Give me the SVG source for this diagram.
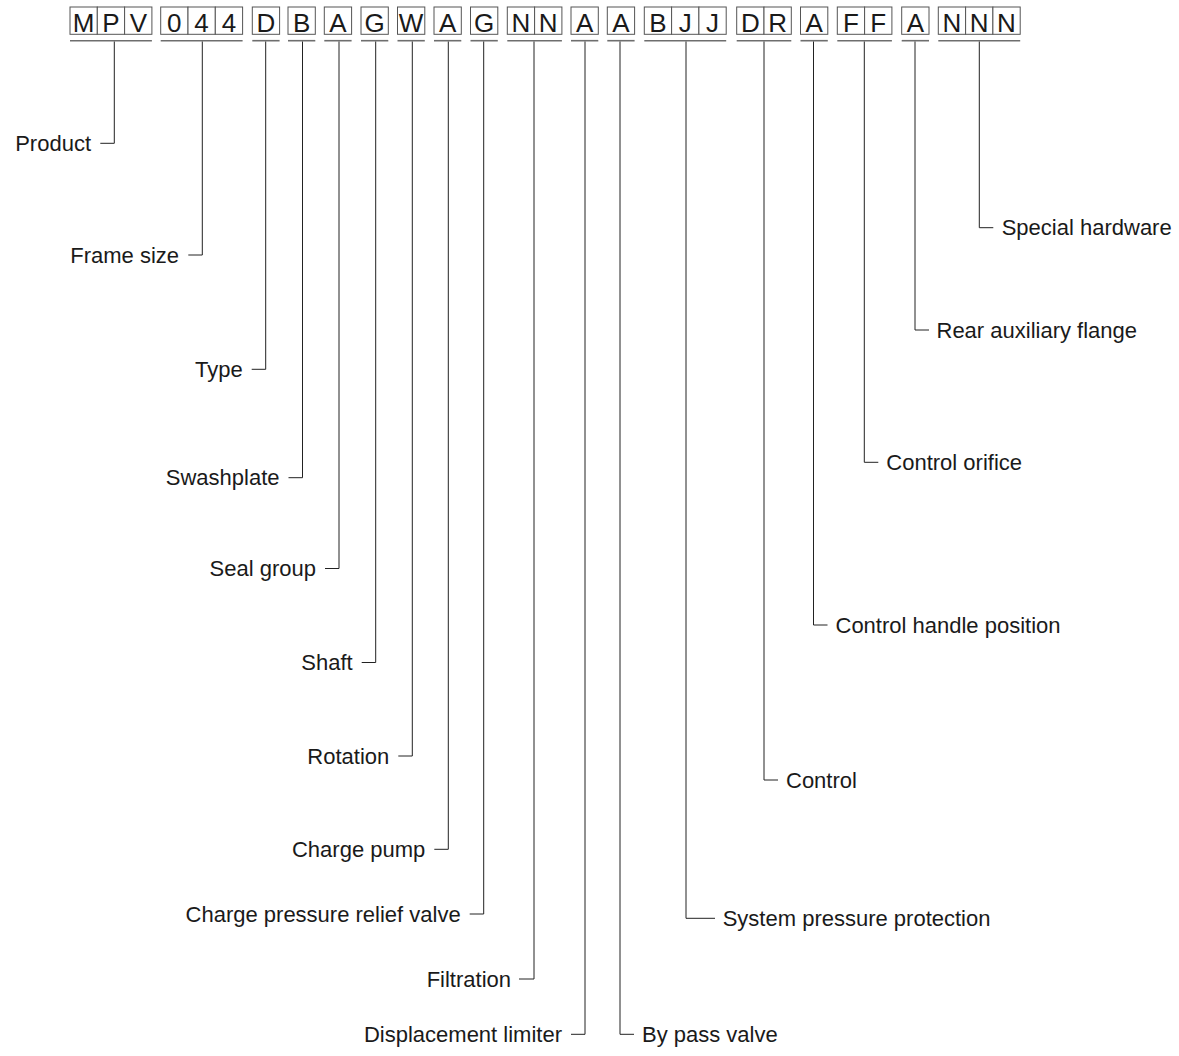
<svg xmlns="http://www.w3.org/2000/svg" width="1179" height="1056" viewBox="0 0 1179 1056">
<style>
.cell{fill:#fff;stroke:#555;stroke-width:1}
.ch{font-family:"Liberation Sans",Arial,sans-serif;font-size:26px;fill:#1a1a1a;text-anchor:middle}
.bar{stroke:#6e6e6e;stroke-width:1.6;fill:none}
.ln{stroke:#222;stroke-width:1;fill:none}
.lbl{font-family:"Liberation Sans",Arial,sans-serif;font-size:22px;fill:#1a1a1a}
.l{text-anchor:end}
.r{text-anchor:start}
</style>
<rect width="1179" height="1056" fill="#fff"/>
<g id="code">
<g id="g-mpv"><rect class="cell" x="70" y="7" width="27.3" height="27.3"/><rect class="cell" x="97.3" y="7" width="27.3" height="27.3"/><rect class="cell" x="124.6" y="7" width="27.3" height="27.3"/><text class="ch" x="83.7" y="31.5">M</text><text class="ch" x="111" y="31.5">P</text><text class="ch" x="138.3" y="31.5">V</text><line class="bar" x1="70" y1="40.7" x2="151.9" y2="40.7"/></g>
<g id="g-044"><rect class="cell" x="160.7" y="7" width="27.3" height="27.3"/><rect class="cell" x="188" y="7" width="27.3" height="27.3"/><rect class="cell" x="215.3" y="7" width="27.3" height="27.3"/><text class="ch" x="174.3" y="31.5">0</text><text class="ch" x="201.6" y="31.5">4</text><text class="ch" x="228.9" y="31.5">4</text><line class="bar" x1="160.7" y1="40.7" x2="242.6" y2="40.7"/></g>
<g id="g-d"><rect class="cell" x="252.3" y="7" width="27.3" height="27.3"/><text class="ch" x="266" y="31.5">D</text><line class="bar" x1="252.3" y1="40.7" x2="279.6" y2="40.7"/></g>
<g id="g-b"><rect class="cell" x="288" y="7" width="27.3" height="27.3"/><text class="ch" x="301.6" y="31.5">B</text><line class="bar" x1="288" y1="40.7" x2="315.3" y2="40.7"/></g>
<g id="g-a1"><rect class="cell" x="324.3" y="7" width="27.3" height="27.3"/><text class="ch" x="338" y="31.5">A</text><line class="bar" x1="324.3" y1="40.7" x2="351.6" y2="40.7"/></g>
<g id="g-g1"><rect class="cell" x="361" y="7" width="27.3" height="27.3"/><text class="ch" x="374.6" y="31.5">G</text><line class="bar" x1="361" y1="40.7" x2="388.3" y2="40.7"/></g>
<g id="g-w"><rect class="cell" x="397.5" y="7" width="27.3" height="27.3"/><text class="ch" x="411.1" y="31.5">W</text><line class="bar" x1="397.5" y1="40.7" x2="424.8" y2="40.7"/></g>
<g id="g-a2"><rect class="cell" x="434" y="7" width="27.3" height="27.3"/><text class="ch" x="447.6" y="31.5">A</text><line class="bar" x1="434" y1="40.7" x2="461.3" y2="40.7"/></g>
<g id="g-g2"><rect class="cell" x="470.5" y="7" width="27.3" height="27.3"/><text class="ch" x="484.1" y="31.5">G</text><line class="bar" x1="470.5" y1="40.7" x2="497.8" y2="40.7"/></g>
<g id="g-nn"><rect class="cell" x="507.3" y="7" width="27.3" height="27.3"/><rect class="cell" x="534.6" y="7" width="27.3" height="27.3"/><text class="ch" x="520.9" y="31.5">N</text><text class="ch" x="548.2" y="31.5">N</text><line class="bar" x1="507.3" y1="40.7" x2="561.9" y2="40.7"/></g>
<g id="g-a3"><rect class="cell" x="571" y="7" width="27.3" height="27.3"/><text class="ch" x="584.6" y="31.5">A</text><line class="bar" x1="571" y1="40.7" x2="598.3" y2="40.7"/></g>
<g id="g-a4"><rect class="cell" x="607.3" y="7" width="27.3" height="27.3"/><text class="ch" x="620.9" y="31.5">A</text><line class="bar" x1="607.3" y1="40.7" x2="634.6" y2="40.7"/></g>
<g id="g-bjj"><rect class="cell" x="644.3" y="7" width="27.3" height="27.3"/><rect class="cell" x="671.6" y="7" width="27.3" height="27.3"/><rect class="cell" x="698.9" y="7" width="27.3" height="27.3"/><text class="ch" x="657.9" y="31.5">B</text><text class="ch" x="685.2" y="31.5">J</text><text class="ch" x="712.5" y="31.5">J</text><line class="bar" x1="644.3" y1="40.7" x2="726.2" y2="40.7"/></g>
<g id="g-dr"><rect class="cell" x="736.7" y="7" width="27.3" height="27.3"/><rect class="cell" x="764" y="7" width="27.3" height="27.3"/><text class="ch" x="750.3" y="31.5">D</text><text class="ch" x="777.6" y="31.5">R</text><line class="bar" x1="736.7" y1="40.7" x2="791.3" y2="40.7"/></g>
<g id="g-a5"><rect class="cell" x="800.5" y="7" width="27.3" height="27.3"/><text class="ch" x="814.1" y="31.5">A</text><line class="bar" x1="800.5" y1="40.7" x2="827.8" y2="40.7"/></g>
<g id="g-ff"><rect class="cell" x="837.3" y="7" width="27.3" height="27.3"/><rect class="cell" x="864.6" y="7" width="27.3" height="27.3"/><text class="ch" x="850.9" y="31.5">F</text><text class="ch" x="878.2" y="31.5">F</text><line class="bar" x1="837.3" y1="40.7" x2="891.9" y2="40.7"/></g>
<g id="g-a6"><rect class="cell" x="901.7" y="7" width="27.3" height="27.3"/><text class="ch" x="915.3" y="31.5">A</text><line class="bar" x1="901.7" y1="40.7" x2="929" y2="40.7"/></g>
<g id="g-nnn"><rect class="cell" x="938.3" y="7" width="27.3" height="27.3"/><rect class="cell" x="965.6" y="7" width="27.3" height="27.3"/><rect class="cell" x="992.9" y="7" width="27.3" height="27.3"/><text class="ch" x="951.9" y="31.5">N</text><text class="ch" x="979.2" y="31.5">N</text><text class="ch" x="1006.5" y="31.5">N</text><line class="bar" x1="938.3" y1="40.7" x2="1020.2" y2="40.7"/></g>
</g>
<g id="connectors">
<path class="ln" d="M114.3 41.5V143.3H100.3"/>
<path class="ln" d="M202.3 41.5V255H188.3"/>
<path class="ln" d="M265.7 41.5V369.3H251.7"/>
<path class="ln" d="M302.5 41.5V477.7H288.5"/>
<path class="ln" d="M339 41.5V568.5H325"/>
<path class="ln" d="M375.7 41.5V662.5H361.7"/>
<path class="ln" d="M412.3 41.5V756H398.3"/>
<path class="ln" d="M448.3 41.5V849.3H434.3"/>
<path class="ln" d="M483.7 41.5V914H469.7"/>
<path class="ln" d="M534 41.5V979H519"/>
<path class="ln" d="M585 41.5V1034.3H571"/>
<path class="ln" d="M620 41.5V1034.3H634"/>
<path class="ln" d="M686 41.5V918.3H715"/>
<path class="ln" d="M764 41.5V780H778"/>
<path class="ln" d="M813.5 41.5V625H827.5"/>
<path class="ln" d="M864.3 41.5V462.3H878.3"/>
<path class="ln" d="M915 41.5V330H929"/>
<path class="ln" d="M979.3 41.5V227.7H993.3"/>
</g>
<g id="labels">
<text id="t-product" class="lbl l" x="91" y="150.8">Product</text>
<text id="t-frame" class="lbl l" x="179" y="262.5">Frame size</text>
<text id="t-type" class="lbl l" x="242.7" y="376.8">Type</text>
<text id="t-swash" class="lbl l" x="279.5" y="485.2">Swashplate</text>
<text id="t-seal" class="lbl l" x="316" y="576">Seal group</text>
<text id="t-shaft" class="lbl l" x="352.7" y="670">Shaft</text>
<text id="t-rot" class="lbl l" x="389.3" y="763.5">Rotation</text>
<text id="t-cp" class="lbl l" x="425.3" y="856.8">Charge pump</text>
<text id="t-cprv" class="lbl l" x="460.7" y="921.5">Charge pressure relief valve</text>
<text id="t-filt" class="lbl l" x="511" y="986.5">Filtration</text>
<text id="t-disp" class="lbl l" x="562" y="1041.8">Displacement limiter</text>
<text id="t-bypass" class="lbl r" x="642" y="1041.8">By pass valve</text>
<text id="t-spp" class="lbl r" x="722.7" y="925.8">System pressure protection</text>
<text id="t-ctrl" class="lbl r" x="786" y="787.5">Control</text>
<text id="t-chp" class="lbl r" x="835.5" y="632.5">Control handle position</text>
<text id="t-co" class="lbl r" x="886.3" y="469.8">Control orifice</text>
<text id="t-raf" class="lbl r" x="936.5" y="337.5">Rear auxiliary flange</text>
<text id="t-sh" class="lbl r" x="1001.7" y="235.2">Special hardware</text>
</g>
</svg>
